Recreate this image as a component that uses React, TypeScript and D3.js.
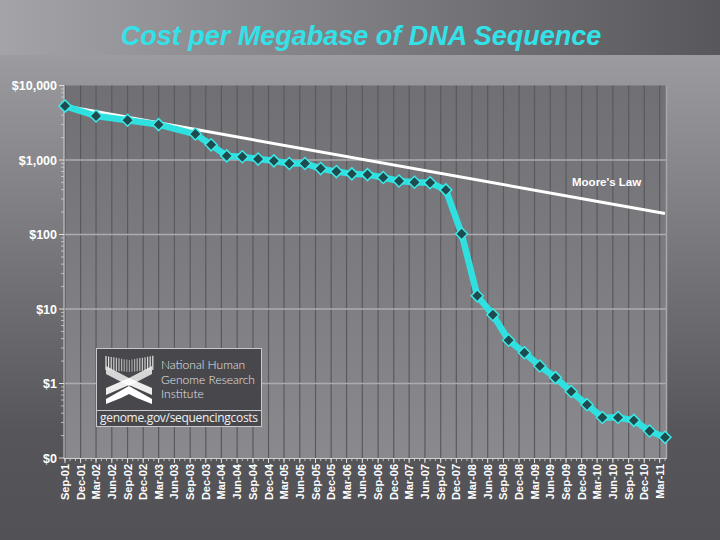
import React from "react";
import * as d3 from "d3";

const dates = ["2001-09","2002-03","2002-09","2003-03","2003-10","2004-01","2004-04","2004-07","2004-10","2005-01","2005-04","2005-07","2005-10","2006-01","2006-04","2006-07","2006-10","2007-01","2007-04","2007-07","2007-10","2008-01","2008-04","2008-07","2008-10","2009-01","2009-04","2009-07","2009-10","2010-01","2010-04","2010-07","2010-10","2011-01","2011-04"];
const costs = [5292.39,3898.64,3413.8,2986.2,2230.98,1598.91,1135.7,1107.46,1028.85,974.16,897.76,898.9,766.73,699.2,651.81,636.41,581.92,522.71,502.61,495.96,397.09,102.13,15.03,8.36,3.81,2.59,1.72,1.2,0.78,0.52,0.35,0.35,0.32,0.23,0.19];
const mooreDates = ["2001-09","2011-04"];
const mooreCosts = [5292.39,191];
const yTickValues = [10000,1000,100,10,1,0.1];
const yTickLabels = ["$10,000","$1,000","$100","$10","$1","$0"];
const monthNames = ["Jan","Feb","Mar","Apr","May","Jun","Jul","Aug","Sep","Oct","Nov","Dec"];

const parse = d3.timeParse("%Y-%m");

export default function App() {
  const W = 720, H = 540;
  const left = 65, right = 665, top = 85.5, bottom = 458;
  const x = d3.scaleTime().domain([parse("2001-09")!, parse("2011-04")!]).range([left, right]);
  const y = d3.scaleLog().domain([0.1, 10000]).range([bottom, top]);

  const quarterTicks = d3.timeMonth.range(parse("2001-09")!, parse("2011-04")!, 3);
  const monthTicks = d3.timeMonth.range(parse("2001-09")!, parse("2011-05")!);
  const fmt = (d: Date) => `${monthNames[d.getMonth()]}-${d3.timeFormat("%y")(d)}`;

  const minorY: number[] = [];
  for (let e = -1; e < 4; e++) for (let k = 2; k <= 9; k++) minorY.push(k * Math.pow(10, e));

  const pts = dates.map((d, i) => [x(parse(d)!), y(costs[i])] as [number, number]);
  const line = d3.line()(pts) || "";
  const moore = d3.line()(mooreDates.map((d, i) => [x(parse(d)!), y(mooreCosts[i])] as [number, number])) || "";

  const font = "'Liberation Sans', Arial, sans-serif";

  const stripeXs = d3.range(106, 153, 2.6);

  return (
    <svg width={W} height={H} style={{ display: "block", position: "absolute", left: 0, top: 0 }}>
      <defs>
        <linearGradient id="bg" x1="0" y1="0" x2="0" y2="1">
          <stop offset="0" stopColor="#a6a6aa" />
          <stop offset="0.8" stopColor="#56565a" />
          <stop offset="1" stopColor="#525256" />
        </linearGradient>
        <linearGradient id="band" x1="0" y1="0" x2="1" y2="0">
          <stop offset="0" stopColor="#a4a4a8" />
          <stop offset="1" stopColor="#58585c" />
        </linearGradient>
        <linearGradient id="plotbg" x1="0" y1="0" x2="0" y2="1">
          <stop offset="0" stopColor="#707074" />
          <stop offset="1" stopColor="#8a8a8e" />
        </linearGradient>
      </defs>
      <rect x={0} y={0} width={W} height={H} fill="url(#bg)" />
      <rect x={0} y={0} width={W} height={55} fill="url(#band)" />
      <text x={361} y={45} textAnchor="middle" fontFamily={font} fontWeight="bold" fontStyle="italic" fontSize={27} fill="#33e2e8">
        Cost per Megabase of DNA Sequence
      </text>

      {/* plot area */}
      <rect x={left} y={top} width={right - left + 2} height={bottom - top} fill="url(#plotbg)" />
      {quarterTicks.map((d, i) => (
        <line key={"vg" + i} x1={x(d)} x2={x(d)} y1={top} y2={bottom} stroke="#5a5a5e" strokeWidth={1.2} />
      ))}
      <line x1={right + 1.5} x2={right + 1.5} y1={top} y2={bottom} stroke="#a8a8ac" strokeWidth={1.5} />
      {yTickValues.slice(1, 5).map((v, i) => (
        <line key={"hg" + i} x1={left} x2={right + 1} y1={y(v)} y2={y(v)} stroke="#acacb0" strokeWidth={1.5} />
      ))}

      {/* axes ticks */}
      <line x1={left - 1} x2={left - 1} y1={top} y2={bottom + 1} stroke="#d0d0d0" strokeWidth={1} />
      <line x1={left - 1} x2={right + 2} y1={bottom + 0.5} y2={bottom + 0.5} stroke="#d0d0d0" strokeWidth={1} />
      {yTickValues.map((v, i) => (
        <line key={"yt" + i} x1={left - 6} x2={left - 1} y1={y(v)} y2={y(v)} stroke="#e0e0e0" strokeWidth={1} />
      ))}
      {minorY.map((v, i) => (
        <line key={"ym" + i} x1={left - 4} x2={left - 1} y1={y(v)} y2={y(v)} stroke="#d0d0d0" strokeWidth={0.8} />
      ))}
      {monthTicks.map((d, i) => (
        <line key={"xm" + i} x1={x(d)} x2={x(d)} y1={bottom} y2={bottom + 3} stroke="#d8d8d8" strokeWidth={0.8} />
      ))}
      {quarterTicks.map((d, i) => (
        <line key={"xt" + i} x1={x(d)} x2={x(d)} y1={bottom} y2={bottom + 5} stroke="#e0e0e0" strokeWidth={1} />
      ))}

      {yTickValues.map((v, i) => (
        <text key={"yl" + i} x={57} y={y(v) + 4.5} textAnchor="end" fontFamily={font} fontWeight="bold" fontSize={12.5} fill="#ffffff">
          {yTickLabels[i]}
        </text>
      ))}
      {quarterTicks.map((d, i) => (
        <text key={"xl" + i} transform={`translate(${x(d) + 4},${bottom + 6}) rotate(-90)`} textAnchor="end" fontFamily={font} fontWeight="bold" fontSize={11} fill="#ffffff">
          {fmt(d)}
        </text>
      ))}

      {/* Moore's law */}
      <path d={moore} fill="none" stroke="#ffffff" strokeWidth={3} />
      <text x={572} y={186} fontFamily={font} fontWeight="bold" fontSize={11.5} fill="#ffffff">Moore's Law</text>

      {/* data */}
      <path d={line} fill="none" stroke="#2fe0e0" strokeWidth={6.5} strokeLinejoin="round" />
      {pts.map((p, i) => (
        <path key={"pt" + i} d={`M${p[0]},${p[1] - 6}L${p[0] + 6},${p[1]}L${p[0]},${p[1] + 6}L${p[0] - 6},${p[1]}Z`} fill="#1e4c4e" stroke="#3ae8e8" strokeWidth={1.5} />
      ))}

      {/* logo */}
      <g>
        <rect x={96.5} y={348.5} width={165} height={78} fill="#48484c" stroke="#c8c8cc" strokeWidth={1} />
        <line x1={96.5} x2={261.5} y1={410.5} y2={410.5} stroke="#c8c8cc" strokeWidth={1} />
        {stripeXs.map((sx, i) => {
          const t = Math.abs(sx - 129) / 23;
          const y0 = 356 + (1 - t) * 4;
          const y1v = 372 - t * 2;
          return <line key={"ls" + i} x1={sx} x2={sx} y1={y0} y2={y1v} stroke="#e8e8e8" strokeWidth={1.2} opacity={0.5 + 0.5 * t} />;
        })}
        <path d="M106,366 L129,378 L152,366 L152,374 L129,386 L106,374 Z" fill="#f0f0f0" opacity={0.85} />
        <path d="M106,399 L129,386 L152,399 L152,404 L137,398 L129,394 L121,398 L106,404 Z" fill="#ffffff" />
        <path d="M106,388 L129,378 L152,388 L152,395 L129,385 L106,395 Z" fill="#ffffff" opacity={0.9} />
        <text x={161} y={369} fontFamily="Lato, 'Open Sans', sans-serif" fontWeight={300} fontSize={12} fill="#e6e6e6">National Human</text>
        <text x={161} y={383.5} fontFamily="Lato, 'Open Sans', sans-serif" fontWeight={300} fontSize={12} fill="#e6e6e6">Genome Research</text>
        <text x={161} y={398} fontFamily="Lato, 'Open Sans', sans-serif" fontWeight={300} fontSize={12} fill="#e6e6e6">Institute</text>
        <text x={100} y={422} fontFamily="'Open Sans', sans-serif" fontSize={12} fill="#f0f0f0" textLength={158}>genome.gov/sequencingcosts</text>
      </g>
    </svg>
  );
}
